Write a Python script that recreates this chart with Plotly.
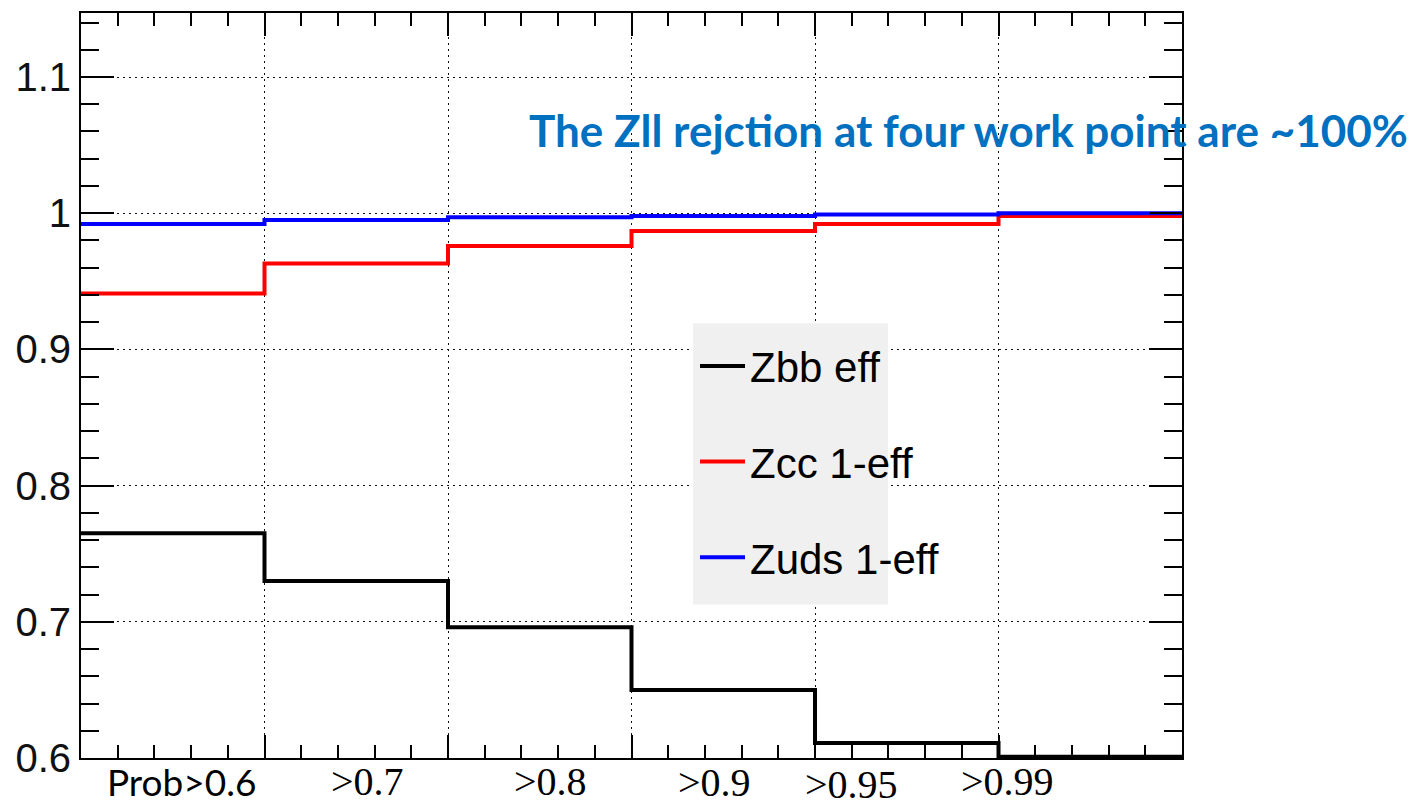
import plotly.graph_objects as go

# Working points (bins) and per-bin values
bin_edges = [0, 1, 2, 3, 4, 5, 6]
bin_labels = ["Prob>0.6", ">0.7", ">0.8", ">0.9", ">0.95", ">0.99"]
zbb_eff = [0.765, 0.730, 0.696, 0.650, 0.611, 0.601]
zcc_1meff = [0.941, 0.963, 0.976, 0.987, 0.992, 0.998]
zuds_1meff = [0.992, 0.995, 0.997, 0.998, 0.999, 1.000]

y_ticks = [0.6, 0.7, 0.8, 0.9, 1.0, 1.1]
y_tick_text = ["0.6", "0.7", "0.8", "0.9", "1", "1.1"]

# placement (data x, paper y) of the working-point captions under the axis
label_x = [0.55, 1.56, 2.56, 3.45, 4.20, 5.05]
label_y = [-0.032, -0.032, -0.032, -0.033, -0.035, -0.032]
label_font = ["Lato", "Liberation Serif", "Liberation Serif",
              "Liberation Serif", "Liberation Serif", "Liberation Serif"]


def step(values):
    return values + [values[-1]]


fig = go.Figure()
series = [
    ("Zbb eff", zbb_eff, "#000000"),
    ("Zcc 1-eff", zcc_1meff, "#ff0000"),
    ("Zuds 1-eff", zuds_1meff, "#0000ff"),
]
for i, (name, vals, col) in enumerate(series):
    fig.add_trace(go.Scatter(
        x=bin_edges, y=step(vals), mode="lines", name=name,
        line=dict(color=col, width=4, shape="hv"),
        legendgroup=f"g{i}", cliponaxis=True,
    ))

for txt, xv, yv, fam in zip(bin_labels, label_x, label_y, label_font):
    fig.add_annotation(
        x=xv, y=yv, xref="x", yref="paper", text=txt, showarrow=False,
        font=dict(family=fam, size=37 if fam == "Lato" else 40, color="#000"),
        xanchor="center", yanchor="middle",
    )

fig.add_annotation(
    x=0.806, y=0.843, xref="paper", yref="paper",
    xanchor="center", yanchor="middle",
    text="<b>The Zll rejction at four work point are ~100%</b>",
    showarrow=False, font=dict(family="Lato", size=44, color="#0070c0"),
)

# legend backdrop
fig.add_shape(
    type="rect", xref="paper", yref="paper", layer="above",
    x0=(693 - 81) / 1101, x1=(888 - 81) / 1101,
    y0=(758 - 604) / 747, y1=(758 - 322) / 747,
    fillcolor="#f0f0f0", line=dict(width=0),
)

axis_common = dict(
    showline=True, linecolor="#000", linewidth=2, mirror="ticks",
    ticks="inside", tickcolor="#000", tickwidth=2,
    showgrid=True, gridcolor="#111", gridwidth=1, griddash="2px,4px",
    zeroline=False,
)

fig.update_xaxes(
    range=[0, 6], tickvals=bin_edges, showticklabels=False, ticklen=23,
    minor=dict(ticks="inside", dtick=0.2, tick0=0, ticklen=13,
               tickcolor="#000", tickwidth=2, showgrid=False),
    **axis_common,
)
fig.update_yaxes(
    range=[0.6, 1.147], tickvals=y_ticks, ticktext=y_tick_text, ticklen=33,
    minor=dict(ticks="inside", dtick=0.02, tick0=0.6, ticklen=18,
               tickcolor="#000", tickwidth=2, showgrid=False),
    tickfont=dict(family="Liberation Sans", size=40, color="#111"),
    **axis_common,
)

fig.update_layout(
    width=1416, height=806,
    margin=dict(l=81, r=234, t=11, b=48),
    paper_bgcolor="white", plot_bgcolor="white",
    showlegend=True,
    legend=dict(
        x=(695 - 81) / 1101, y=(758 - 331) / 747, xanchor="left", yanchor="top",
        bgcolor="rgba(0,0,0,0)", borderwidth=0, tracegroupgap=38,
        traceorder="grouped", itemwidth=45,
        font=dict(family="Liberation Sans", size=42, color="#000"),
    ),
)

fig.write_html("out.html")
